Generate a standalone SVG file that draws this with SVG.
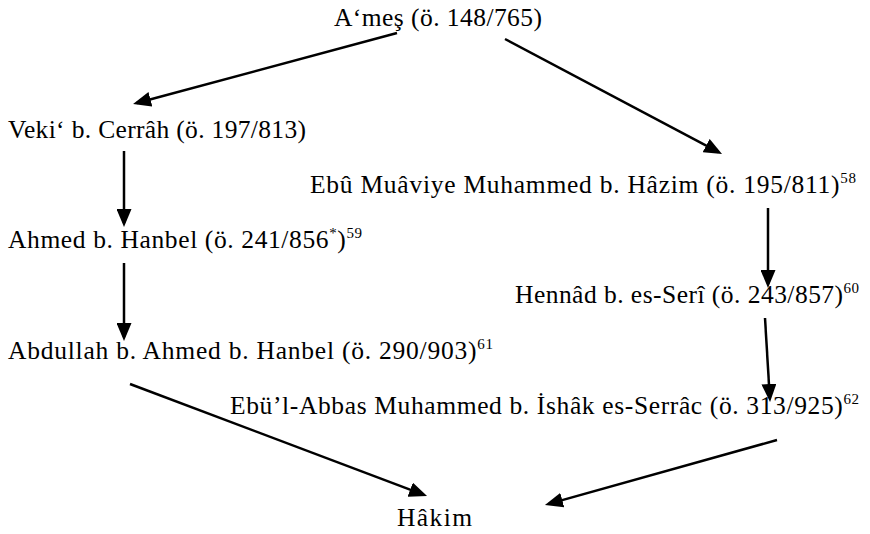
<svg xmlns="http://www.w3.org/2000/svg" width="870" height="534" viewBox="0 0 870 534">
<style>
.s{font-size:15px}
.c line{stroke:#000;stroke-width:2.5;fill:none}
</style>
<defs>
<marker id="arr" viewBox="0 0 18 15" refX="14" refY="7.5" markerWidth="18" markerHeight="15" markerUnits="userSpaceOnUse" orient="auto">
<path d="M0,0 L18,7.5 L0,15 z" fill="#000"/>
</marker>
</defs>
<rect width="870" height="534" fill="#fff"/>
<g id="ames"><text font-family="Liberation Serif" font-size="25.5" x="334" y="26" textLength="208" lengthAdjust="spacing">A‘meş (ö. 148/765)</text></g>
<g id="veki"><text font-family="Liberation Serif" font-size="25.5" x="8" y="138" textLength="298" lengthAdjust="spacing">Veki‘ b. Cerrâh (ö. 197/813)</text></g>
<g id="ebu-muaviye"><text font-family="Liberation Serif" font-size="25.5" x="310" y="193" textLength="546" lengthAdjust="spacing">Ebû Muâviye Muhammed b. Hâzim (ö. 195/811)<tspan class="s" dy="-10">58</tspan></text></g>
<g id="ahmed"><text font-family="Liberation Serif" font-size="25.5" x="8" y="248" textLength="354" lengthAdjust="spacing">Ahmed b. Hanbel (ö. 241/856<tspan class="s" dy="-10">*</tspan><tspan dy="10">)</tspan><tspan class="s" dy="-10">59</tspan></text></g>
<g id="hennad"><text font-family="Liberation Serif" font-size="25.5" x="515" y="303" textLength="344" lengthAdjust="spacing">Hennâd b. es-Serî (ö. 243/857)<tspan class="s" dy="-10">60</tspan></text></g>
<g id="abdullah"><text font-family="Liberation Serif" font-size="25.5" x="8" y="359" textLength="485" lengthAdjust="spacing">Abdullah b. Ahmed b. Hanbel (ö. 290/903)<tspan class="s" dy="-10">61</tspan></text></g>
<g id="ebul-abbas"><text font-family="Liberation Serif" font-size="25.5" x="230" y="414" textLength="629" lengthAdjust="spacing">Ebü’l-Abbas Muhammed b. İshâk es-Serrâc (ö. 313/925)<tspan class="s" dy="-10">62</tspan></text></g>
<g id="hakim"><text font-family="Liberation Serif" font-size="25.5" x="397" y="526" textLength="75" lengthAdjust="spacing">Hâkim</text></g>
<g id="connectors" class="c" marker-end="url(#arr)">
<line x1="397" y1="33" x2="136.9" y2="103"/>
<line x1="505" y1="39" x2="718.5" y2="152.1"/>
<line x1="124" y1="151" x2="124" y2="223"/>
<line x1="768" y1="208" x2="768" y2="284"/>
<line x1="124" y1="263" x2="124" y2="337"/>
<line x1="765" y1="318" x2="769.8" y2="398"/>
<line x1="130" y1="384" x2="423.3" y2="494.6"/>
<line x1="777" y1="440" x2="548.8" y2="503.9"/>
</g>
</svg>
